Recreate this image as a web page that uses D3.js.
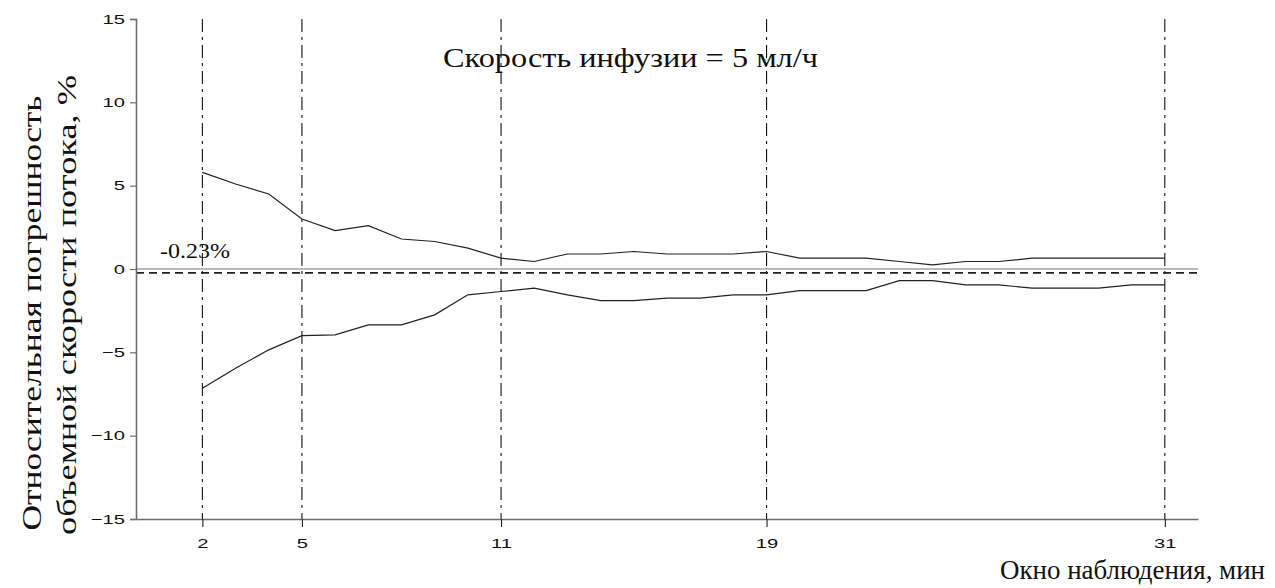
<!DOCTYPE html>
<html>
<head>
<meta charset="utf-8">
<script src="https://cdn.jsdelivr.net/npm/d3@7"></script>
<style>
  html, body { margin: 0; padding: 0; background: #fff; }
  svg { display: block; }
</style>
</head>
<body>
<svg id="chart" width="1275" height="588"></svg>
<script>
// Observation window, minutes
const minutes = [2, 3, 4, 5, 6, 7, 8, 9, 10, 11, 12, 13, 14, 15, 16, 17, 18, 19, 20, 21, 22, 23, 24, 25, 26, 27, 28, 29, 30, 31];
// Upper error bound, %
const upperBound = [5.8, 5.1, 4.5, 3.0, 2.3, 2.6, 1.8, 1.65, 1.25, 0.65, 0.45, 0.9, 0.9, 1.05, 0.9, 0.9, 0.9, 1.05, 0.65, 0.65, 0.65, 0.45, 0.25, 0.45, 0.45, 0.65, 0.65, 0.65, 0.65, 0.65];
// Lower error bound, %
const lowerBound = [-7.15, -5.95, -4.85, -4.0, -3.95, -3.35, -3.35, -2.75, -1.55, -1.35, -1.15, -1.55, -1.9, -1.9, -1.75, -1.75, -1.55, -1.55, -1.3, -1.3, -1.3, -0.7, -0.7, -0.95, -0.95, -1.15, -1.15, -1.15, -0.95, -0.95];
// Marked observation windows
const windowMarks = [2, 5, 11, 19, 31];
const yTicks = [-15, -10, -5, 0, 5, 10, 15];
const meanBias = -0.23;

const svg = d3.select("#chart");

const x = d3.scaleLinear().domain([0, 32]).range([136, 1198]);
const y = d3.scaleLinear().domain([-15, 15]).range([519, 19]);

const axisColor = "#6e6e6e";
const tickFont = "Liberation Sans, Arial, sans-serif";
const serif = "Liberation Serif, Times New Roman, serif";

// Wide tick lettering: stretch each label horizontally
function widenLabels(sel) {
  sel.attr("font-family", tickFont).attr("font-size", 13).attr("fill", "#111")
    .each(function () {
      const w = this.getComputedTextLength();
      d3.select(this).attr("textLength", w * 1.55).attr("lengthAdjust", "spacingAndGlyphs");
    });
}

// Vertical dash-dot guides at the marked windows
svg.append("g").selectAll("line")
  .data(windowMarks)
  .join("line")
  .attr("x1", d => x(d)).attr("x2", d => x(d))
  .attr("y1", y(15)).attr("y2", y(-15))
  .attr("stroke", "#111")
  .attr("stroke-width", 1.1)
  .attr("stroke-dasharray", "13,5,3,5");

// Zero reference line
svg.append("line")
  .attr("x1", x(0)).attr("x2", x(32))
  .attr("y1", y(0)).attr("y2", y(0))
  .attr("stroke", "#777").attr("stroke-width", 1.2);

// Mean bias line
svg.append("line")
  .attr("x1", x(0)).attr("x2", x(32))
  .attr("y1", y(meanBias)).attr("y2", y(meanBias))
  .attr("stroke", "#222").attr("stroke-width", 1.6)
  .attr("stroke-dasharray", "8,5");

// Y axis
const yAxis = d3.axisLeft(y).tickValues(yTicks).tickSize(6).tickPadding(5)
  .tickFormat(d3.format("d"));
const gy = svg.append("g").attr("transform", `translate(${x(0)},0)`).call(yAxis);
gy.select(".domain").attr("stroke", axisColor).attr("stroke-width", 1.6);
gy.selectAll(".tick line").attr("stroke", axisColor).attr("stroke-width", 1.2);
widenLabels(gy.selectAll(".tick text"));

// X axis
const xAxis = d3.axisBottom(x).tickValues(windowMarks).tickSize(8).tickPadding(12)
  .tickSizeOuter(0);
const gx = svg.append("g").attr("transform", `translate(0,${y(-15)})`).call(xAxis);
gx.select(".domain").attr("stroke", axisColor).attr("stroke-width", 1.6);
gx.selectAll(".tick line").attr("stroke", "#222").attr("stroke-width", 1.1);
widenLabels(gx.selectAll(".tick text"));

// Error bound curves
const line = d3.line().x((d, i) => x(minutes[i])).y(d => y(d));
[upperBound, lowerBound].forEach(series => {
  svg.append("path")
    .datum(series)
    .attr("d", line)
    .attr("fill", "none")
    .attr("stroke", "#222")
    .attr("stroke-width", 1.2);
});

// Annotations
svg.append("text")
  .attr("x", 160).attr("y", 258)
  .attr("font-family", serif).attr("font-size", 21).attr("fill", "#111")
  .attr("textLength", 70).attr("lengthAdjust", "spacingAndGlyphs")
  .text("-0.23%");

svg.append("text")
  .attr("x", 443).attr("y", 67)
  .attr("font-family", serif).attr("font-size", 27).attr("fill", "#111")
  .attr("textLength", 375).attr("lengthAdjust", "spacingAndGlyphs")
  .text("Скорость инфузии = 5 мл/ч");

svg.append("text")
  .attr("x", 1000).attr("y", 579)
  .attr("font-family", serif).attr("font-size", 27).attr("fill", "#111")
  .attr("textLength", 265).attr("lengthAdjust", "spacingAndGlyphs")
  .text("Окно наблюдения, мин");

// Rotated two-line Y title
svg.append("text")
  .attr("transform", "translate(41,313) rotate(-90)")
  .attr("text-anchor", "middle")
  .attr("font-family", serif).attr("font-size", 27).attr("fill", "#111")
  .attr("textLength", 435).attr("lengthAdjust", "spacingAndGlyphs")
  .text("Относительная погрешность");
svg.append("text")
  .attr("transform", "translate(76,305) rotate(-90)")
  .attr("text-anchor", "middle")
  .attr("font-family", serif).attr("font-size", 27).attr("fill", "#111")
  .attr("textLength", 460).attr("lengthAdjust", "spacingAndGlyphs")
  .text("объемной скорости потока, %");
</script>
</body>
</html>
